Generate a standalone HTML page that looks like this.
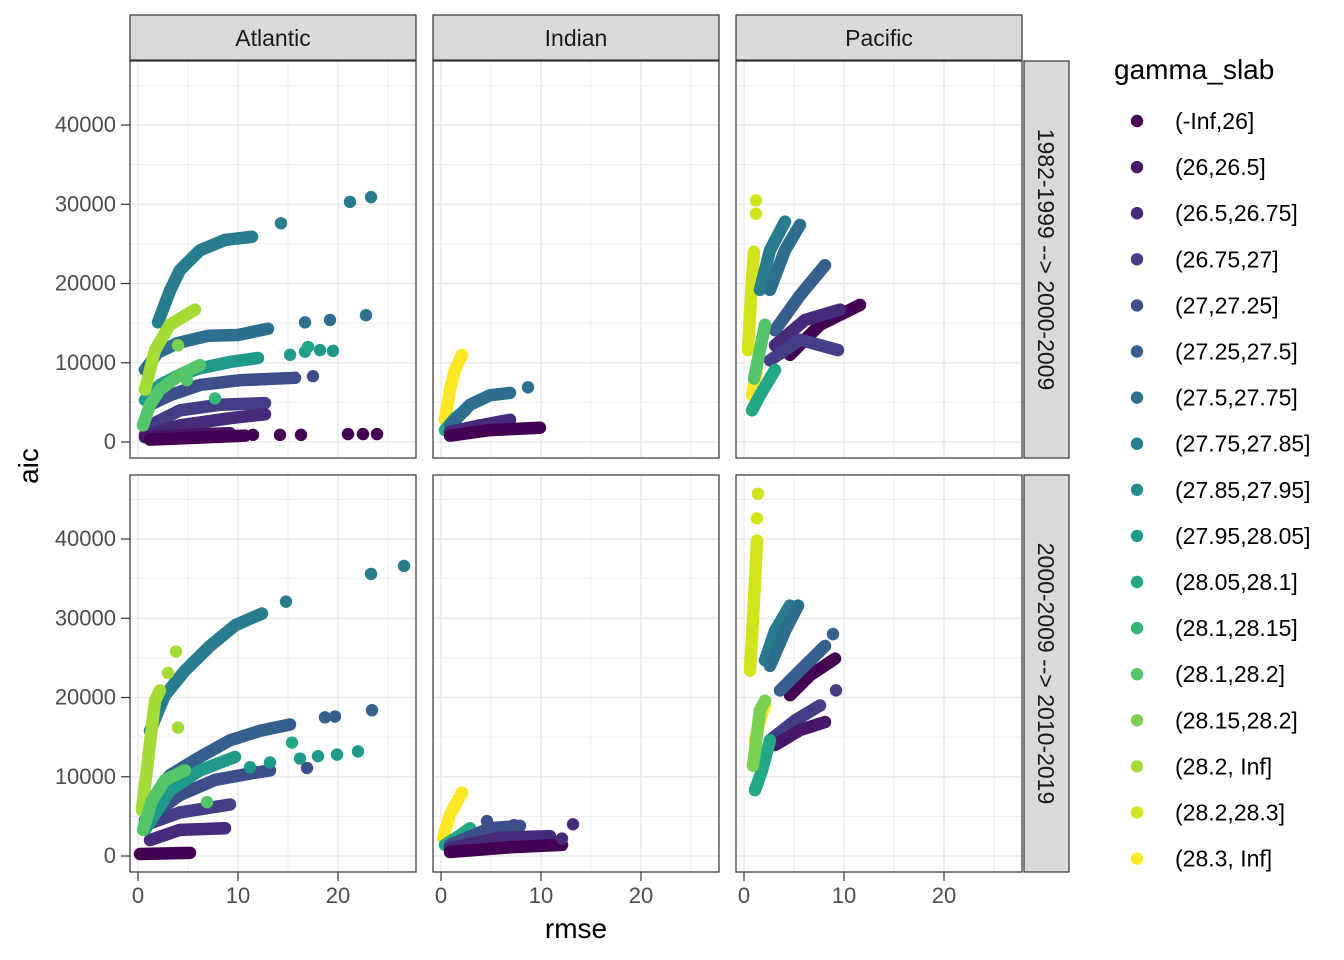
<!DOCTYPE html>
<html><head><meta charset="utf-8"><style>
html,body{margin:0;padding:0;background:#fff;}
svg{display:block;font-family:"Liberation Sans",sans-serif;}
</style></head><body>
<svg id="chart" width="1344" height="960" viewBox="0 0 1344 960" xmlns="http://www.w3.org/2000/svg"></svg>
<script>
// ---- data ----
const oceans = ["Atlantic", "Indian", "Pacific"];
const periods = ["1982-1999 --> 2000-2009", "2000-2009 --> 2010-2019"];
const levels = ["(-Inf,26]","(26,26.5]","(26.5,26.75]","(26.75,27]","(27,27.25]","(27.25,27.5]","(27.5,27.75]","(27.75,27.85]","(27.85,27.95]","(27.95,28.05]","(28.05,28.1]","(28.1,28.15]","(28.1,28.2]","(28.15,28.2]","(28.2, Inf]","(28.2,28.3]","(28.3, Inf]"];
const colors = ["#440154","#481769","#472A7A","#433E85","#3C4F8A","#355F8D","#2E6E8E","#287C8E","#228B8D","#1F998A","#22A884","#35B779","#54C568","#7AD151","#A5DB36","#D2E21B","#FDE725"];
const xTicks = [0, 10, 20];
const yTicks = [0, 10000, 20000, 30000, 40000];

// curves: [ocean, period, level, [[rmse, aic], ...]]
const curves = [
 [0,0,7,[[2,15100],[3.2,19100],[4.2,21700],[6.2,24200],[8.7,25500],[11.4,25900]]],
 [0,0,6,[[0.7,9100],[2,11300],[4,12500],[7,13400],[10,13500],[13,14300]]],
 [0,0,9,[[0.7,5300],[2.2,7200],[4.2,8500],[6.2,9300],[9.2,10100],[12,10600]]],
 [0,0,4,[[1.2,4700],[3.2,5900],[6.2,7200],[10.2,7800],[15.7,8100]]],
 [0,0,3,[[1.2,2100],[4.2,4000],[8.2,4700],[12.7,4900]]],
 [0,0,2,[[0.7,900],[4.2,2100],[9.2,3000],[12.7,3500]]],
 [0,0,1,[[0.7,600],[6.2,1000],[9.2,1100]]],
 [0,0,0,[[1.2,300],[5.2,500],[10.7,800]]],
 [0,0,12,[[0.5,2100],[1.2,4700],[2.2,6600],[4.2,8500],[6.2,9700]]],
 [0,0,14,[[0.7,6600],[1.7,11600],[3.2,14800],[5.7,16700]]],
 [1,0,16,[[0.4,2800],[0.9,6600],[1.4,9100],[2.1,11000]]],
 [1,0,10,[[0.4,1500],[1.4,3000],[2.4,4000]]],
 [1,0,6,[[0.9,2100],[2.9,4700],[4.9,5900],[6.9,6200]]],
 [1,0,2,[[0.9,1300],[3.9,2100],[6.9,2800]]],
 [1,0,0,[[0.9,800],[4.9,1500],[9.9,1800]]],
 [2,0,15,[[0.4,11600],[0.8,20500],[1.0,24000]]],
 [2,0,16,[[0.8,5900],[1.3,9100]]],
 [2,0,7,[[1.6,19200],[2.6,24200],[4.1,27800]]],
 [2,0,6,[[2.6,19200],[4.1,24200],[5.6,27400]]],
 [2,0,5,[[3.1,14100],[5.6,18500],[8.1,22300]]],
 [2,0,0,[[4.6,11000],[7.6,14800],[11.6,17300]]],
 [2,0,2,[[3.1,12200],[6.1,15400],[9.6,16700]]],
 [2,0,3,[[2.6,10300],[5.6,12900],[9.4,11600]]],
 [2,0,10,[[0.8,4000],[1.6,5900],[3.1,9100]]],
 [2,0,12,[[1.0,8000],[1.6,11600],[2.1,14800]]],
 [0,1,0,[[0.2,250],[5.2,400]]],
 [0,1,2,[[1.2,2000],[4.2,3300],[8.7,3500]]],
 [0,1,3,[[0.7,3900],[4.2,5500],[9.2,6500]]],
 [0,1,7,[[1.2,15800],[2.7,20300],[4.7,23400],[7.2,26500],[9.7,29100],[12.4,30600]]],
 [0,1,5,[[0.7,5800],[3.2,10200],[6.2,12500],[9.2,14600],[12.2,15800],[15.2,16600]]],
 [0,1,4,[[0.7,4500],[4.2,7700],[7.7,9600],[11.2,10400],[13.2,10800]]],
 [0,1,9,[[0.7,3300],[3.2,8300],[6.2,10800],[9.7,12500]]],
 [0,1,14,[[0.4,5800],[1,12100],[1.7,19600],[2.2,20900]]],
 [0,1,12,[[0.5,3300],[1.4,7000],[2.7,9600],[4.7,10800]]],
 [1,1,16,[[0.2,2300],[0.9,5200],[2.1,8000]]],
 [1,1,10,[[0.4,1400],[1.9,2600],[2.9,3500]]],
 [1,1,4,[[0.9,1400],[4.9,3500],[7.9,3800]]],
 [1,1,2,[[0.9,1000],[5.9,2300],[10.9,2500]]],
 [1,1,0,[[0.9,500],[6.9,1100],[12.1,1400]]],
 [2,1,15,[[0.6,23400],[1,32200],[1.3,39800]]],
 [2,1,16,[[1.1,14600],[1.6,17100],[2.1,19000]]],
 [2,1,7,[[2.1,24700],[3.1,28400],[4.6,31600]]],
 [2,1,6,[[2.6,24000],[4.1,28400],[5.4,31600]]],
 [2,1,0,[[4.6,20300],[6.6,22800],[9.1,24900]]],
 [2,1,5,[[3.6,20900],[5.6,23400],[8.1,26500]]],
 [2,1,3,[[2.6,14600],[5.1,17100],[7.6,19000]]],
 [2,1,1,[[3.1,14000],[5.6,15900],[8.1,16900]]],
 [2,1,10,[[1.1,8300],[1.8,10800],[2.6,14600]]],
 [2,1,13,[[0.9,11400],[1.6,18400],[2.1,19600]]]
];
// isolated points: [ocean, period, level, rmse, aic]
const points = [
 [0,0,7,14.3,27600],[0,0,7,21.2,30300],[0,0,7,23.3,30900],
 [0,0,6,16.7,15100],[0,0,6,19.2,15400],[0,0,6,22.8,16000],
 [0,0,9,15.2,11000],[0,0,9,16.7,11400],[0,0,9,18.2,11600],[0,0,9,19.5,11500],[0,0,10,17.0,12000],
 [0,0,4,17.5,8300],
 [0,0,0,11.5,900],[0,0,0,14.2,900],[0,0,0,16.3,900],[0,0,0,21,1000],[0,0,0,22.5,1000],[0,0,0,23.9,1000],
 [0,0,13,4.0,12200],[0,0,11,7.7,5500],[0,0,12,4.9,7800],
 [1,0,6,8.7,6900],
 [2,0,15,1.2,30500],[2,0,15,1.2,28800],
 [0,1,7,14.8,32100],[0,1,7,23.3,35600],[0,1,7,26.6,36600],
 [0,1,5,18.7,17500],[0,1,5,19.7,17600],[0,1,5,23.4,18400],
 [0,1,4,16.9,11100],
 [0,1,9,11.2,11200],[0,1,9,13.2,11800],[0,1,10,15.4,14300],[0,1,9,16.2,12300],[0,1,9,18,12600],[0,1,9,19.9,12800],[0,1,9,22,13200],
 [0,1,14,3.0,23100],[0,1,14,3.8,25800],[0,1,14,4.0,16200],
 [0,1,12,6.9,6800],
 [1,1,4,4.6,4400],[1,1,4,7.3,3900],[1,1,2,13.2,4000],[1,1,2,12.1,2200],
 [2,1,15,1.4,45700],[2,1,15,1.3,42600],
 [2,1,5,8.9,28000],[2,1,3,9.2,20900]
];

// ---- layout ----
const svg = document.getElementById('chart');
const NS = "http://www.w3.org/2000/svg";
const panelX = [130, 433, 736], panelW = 286;
const panelY = [61, 475], panelH = 397;
const xMin = -0.8, xMax = 27.8, yMin = -2020, yMax = 48080;
function sx(c, v){ return panelX[c] + (v - xMin) / (xMax - xMin) * panelW; }
function sy(r, v){ return panelY[r] + panelH - (v - yMin) / (yMax - yMin) * panelH; }
function el(tag, attrs, parent){ const e = document.createElementNS(NS, tag); for (const k in attrs) e.setAttribute(k, attrs[k]); (parent||svg).appendChild(e); return e; }

for (let r = 0; r < 2; r++) for (let c = 0; c < 3; c++) {
  const g = el('g', {});
  
  
  el('rect', {x: panelX[c], y: panelY[r], width: panelW, height: panelH, fill: '#fff'}, g);
  for (let v = 0; v <= 25; v += 5) {
    const x = sx(c, v);
    const ln = el('line', {x1: x, x2: x, y1: panelY[r], y2: panelY[r]+panelH, stroke: '#EBEBEB', 'stroke-width': v % 10 === 0 ? 1.6 : 0.8}, g);
    
    
  }
  for (let v = 0; v <= 45000; v += 5000) {
    const y = sy(r, v);
    const ln = el('line', {x1: panelX[c], x2: panelX[c]+panelW, y1: y, y2: y, stroke: '#EBEBEB', 'stroke-width': v % 10000 === 0 ? 1.6 : 0.8}, g);
    
    
  }
  const clipId = 'clip' + r + c;
  const cp = el('clipPath', {id: clipId}, g);
  el('rect', {x: panelX[c], y: panelY[r], width: panelW, height: panelH}, cp);
  const mg = el('g', {'clip-path': 'url(#' + clipId + ')'}, g);
  curves.filter(d => d[0] === c && d[1] === r).forEach(d => {
    const pts = d[3].map(p => sx(c, p[0]) + ',' + sy(r, p[1])).join(' ');
    const pl = el('polyline', {points: pts, fill: 'none', stroke: colors[d[2]], 'stroke-width': 12.5, 'stroke-linecap': 'round', 'stroke-linejoin': 'round'}, mg);
    
    
  });
  points.filter(d => d[0] === c && d[1] === r).forEach(d => {
    const ci = el('circle', {cx: sx(c, d[3]), cy: sy(r, d[4]), r: 6.2, fill: colors[d[2]]}, mg);
    
    
  });
  el('rect', {x: panelX[c], y: panelY[r], width: panelW, height: panelH, fill: 'none', stroke: '#333', 'stroke-width': 1.2}, g);
}

// strips
oceans.forEach((o, c) => {
  const s = el('rect', {x: panelX[c], y: 15, width: panelW, height: 45, fill: '#D9D9D9', stroke: '#333', 'stroke-width': 1.2});
  
  
  const t = el('text', {x: panelX[c] + panelW/2, y: 46, 'text-anchor': 'middle', 'font-size': 23, fill: '#1A1A1A'});
  t.textContent = o;
  
  
});
periods.forEach((p, r) => {
  const s = el('rect', {x: 1024, y: panelY[r], width: 45, height: panelH, fill: '#D9D9D9', stroke: '#333', 'stroke-width': 1.2});
  
  
  const cx = 1038, cy = panelY[r] + panelH/2;
  const t = el('text', {x: cx, y: cy, 'text-anchor': 'middle', 'font-size': 23, fill: '#1A1A1A', transform: 'rotate(90 ' + cx + ' ' + cy + ')'});
  t.textContent = p;
  
  
});

// y axis
for (let r = 0; r < 2; r++) yTicks.forEach(v => {
  const y = sy(r, v);
  const tk = el('line', {x1: 121, x2: 130, y1: y, y2: y, stroke: '#333', 'stroke-width': 1.2});
  
  
  const t = el('text', {x: 116, y: y + 7, 'text-anchor': 'end', 'font-size': 22, fill: '#4D4D4D'});
  t.textContent = v;
  
  
});
// x axis
for (let c = 0; c < 3; c++) xTicks.forEach(v => {
  const x = sx(c, v);
  const tk = el('line', {x1: x, x2: x, y1: 872, y2: 881, stroke: '#333', 'stroke-width': 1.2});
  
  
  const t = el('text', {x: x, y: 903, 'text-anchor': 'middle', 'font-size': 22, fill: '#4D4D4D'});
  t.textContent = v;
  
  
});
const xt = el('text', {x: 576, y: 938, 'text-anchor': 'middle', 'font-size': 28, fill: '#000'});
xt.textContent = 'rmse';


const yt = el('text', {x: 38, y: 466, 'text-anchor': 'middle', 'font-size': 28, fill: '#000', transform: 'rotate(-90 38 466)'});
yt.textContent = 'aic';



// legend
const lt = el('text', {x: 1114, y: 79, 'font-size': 28, fill: '#000'});
lt.textContent = 'gamma_slab';


levels.forEach((lv, i) => {
  const y = 121 + i * 46.1;
  const g = el('g', {});
  
  
  el('circle', {cx: 1137, cy: y, r: 6.2, fill: colors[i]}, g);
  const t = el('text', {x: 1175, y: y + 8, 'font-size': 23, fill: '#000'}, g);
  t.textContent = lv;
});
</script>
</body></html>
